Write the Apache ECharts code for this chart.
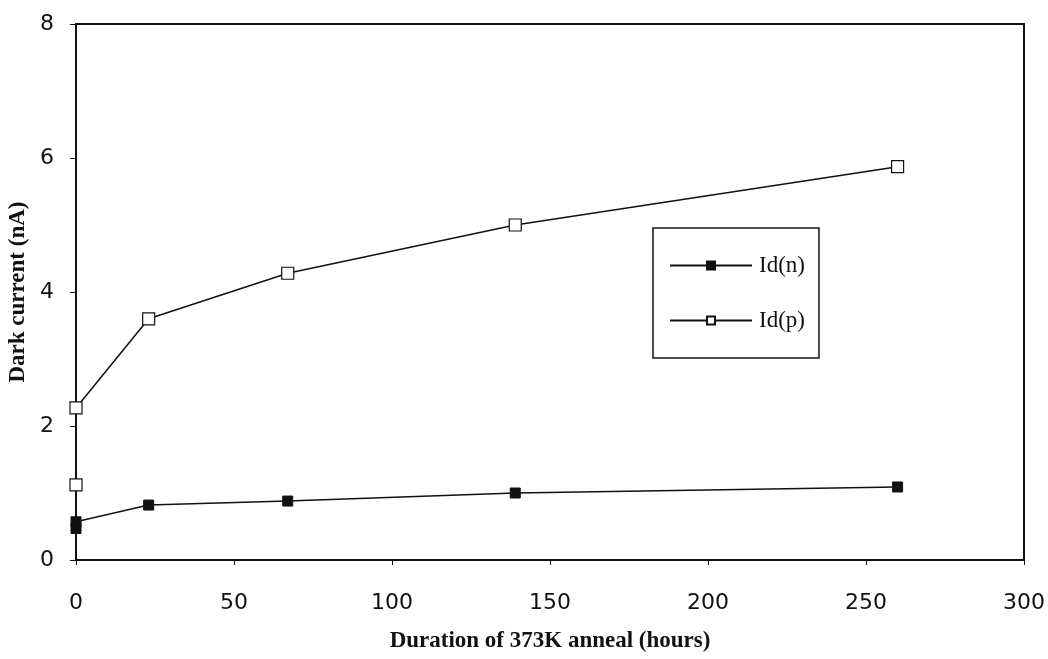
<!DOCTYPE html>
<html>
<head>
<meta charset="utf-8">
<script src="https://cdn.jsdelivr.net/npm/echarts@6/dist/echarts.min.js"></script>
<style>
  html, body { margin: 0; padding: 0; background: #fff; }
  #chart { width: 1048px; height: 659px; }
</style>
</head>
<body>
<div id="chart"></div>
<script>
// Anneal duration (hours) and measured dark currents (nA)
const hoursN = [0, 0, 23, 67, 139, 260];
const idN = [0.47, 0.57, 0.82, 0.88, 1.0, 1.09];
const hoursP = [0, 0, 23, 67, 139, 260];
const idP = [1.12, 2.27, 3.6, 4.28, 5.0, 5.87];
const seriesNames = ['Id(n)', 'Id(p)'];
const xTitle = 'Duration of 373K anneal (hours)';
const yTitle = 'Dark current (nA)';

const pairs = (xs, ys) => xs.map((x, i) => [x, ys[i]]);

const chart = echarts.init(document.getElementById('chart'));
const tickFont = { fontFamily: 'DejaVu Sans', fontSize: 22, color: '#111' };
const titleFont = { fontFamily: 'Liberation Serif', fontWeight: 'bold', fontSize: 23, color: '#111' };

chart.setOption({
  animation: false,
  backgroundColor: '#fff',
  grid: {
    left: 76, right: 24, top: 24, bottom: 99,
    outerBoundsMode: 'none',
    show: true, borderColor: '#111', borderWidth: 2, backgroundColor: 'transparent'
  },
  xAxis: {
    type: 'value', min: 0, max: 300, interval: 50,
    name: xTitle, nameLocation: 'middle', nameGap: 70,
    nameTextStyle: titleFont,
    axisLine: { show: true, onZero: false, lineStyle: { color: '#111', width: 2 } },
    axisTick: { show: true, length: 5, lineStyle: { color: '#111', width: 1 } },
    axisLabel: Object.assign({ margin: 32 }, tickFont),
    splitLine: { show: false }
  },
  yAxis: {
    type: 'value', min: 0, max: 8, interval: 2,
    name: yTitle, nameLocation: 'middle', nameGap: 44, nameRotate: 90,
    nameTextStyle: titleFont,
    axisLine: { show: true, onZero: false, lineStyle: { color: '#111', width: 2 } },
    axisTick: { show: true, length: 6, lineStyle: { color: '#111', width: 1 } },
    axisLabel: Object.assign({ margin: 22 }, tickFont),
    splitLine: { show: false }
  },
  legend: {
    orient: 'vertical',
    left: 653, top: 228,
    padding: [26, 14, 26, 16],
    itemGap: 32,
    itemWidth: 82, itemHeight: 10,
    backgroundColor: '#fff',
    borderColor: '#111', borderWidth: 1.5,
    textStyle: { fontFamily: 'Liberation Serif', fontSize: 23, color: '#111', padding: [0, 0, 0, 2] },
    data: seriesNames
  },
  series: [
    {
      name: seriesNames[0], type: 'line',
      data: pairs(hoursN, idN),
      symbol: 'rect', symbolSize: 10,
      lineStyle: { color: '#111', width: 1.5 },
      itemStyle: { color: '#111', borderColor: '#111', borderWidth: 1 }
    },
    {
      name: seriesNames[1], type: 'line',
      data: pairs(hoursP, idP),
      symbol: 'rect', symbolSize: 12,
      lineStyle: { color: '#111', width: 1.5 },
      itemStyle: { color: '#fff', borderColor: '#111', borderWidth: 1.2 }
    }
  ]
});
</script>
</body>
</html>
